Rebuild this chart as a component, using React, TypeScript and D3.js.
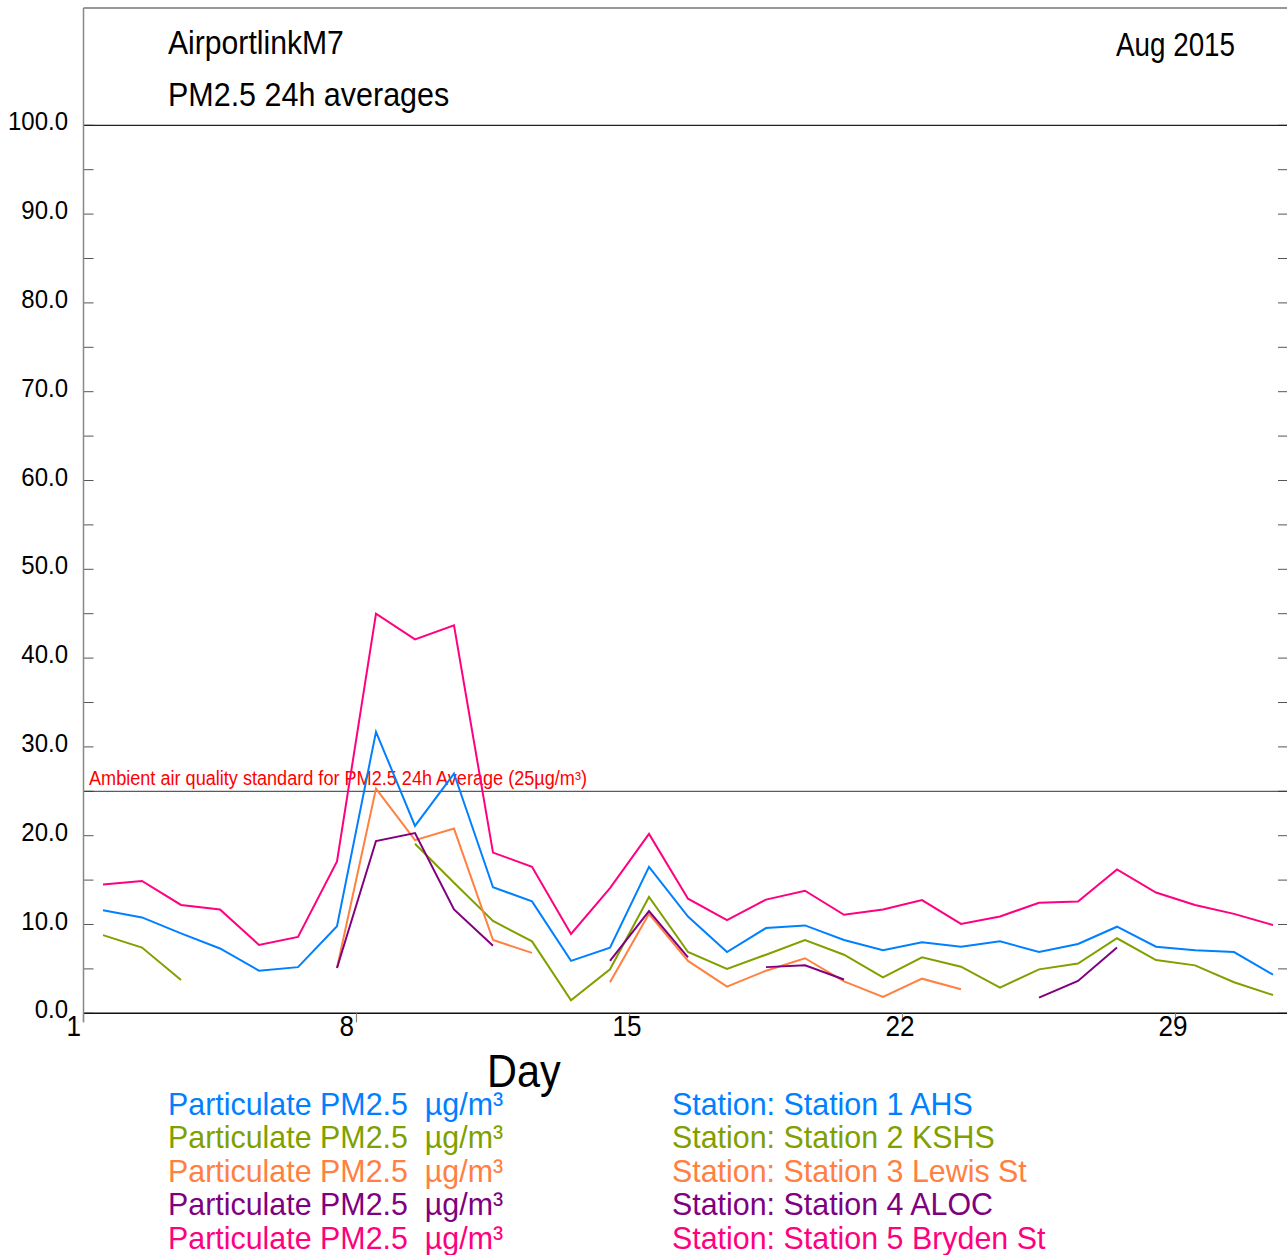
import React from "react";
import * as d3 from "d3";

const days: number[] = d3.range(1, 32);
const station1: (number | null)[] = [11.6, 10.8, 9.0, 7.3, 4.8, 5.2, 9.8, 31.7, 21.1, 27.0, 14.2, 12.6, 5.9, 7.4, 16.5, 10.9, 6.9, 9.6, 9.9, 8.25, 7.1, 8.0, 7.5, 8.1, 6.9, 7.8, 9.75, 7.5, 7.1, 6.9, 4.35];
const station2: (number | null)[] = [8.8, 7.4, 3.75, null, null, null, null, null, 19.1, 14.7, 10.4, 8.1, 1.46, 4.95, 13.1, 6.9, 5.0, 6.6, 8.25, 6.6, 4.05, 6.3, 5.25, 2.9, 4.95, 5.6, 8.45, 6.0, 5.4, 3.5, 2.06];
const station3: (number | null)[] = [null, null, null, null, null, null, 5.1, 25.3, 19.5, 20.8, 8.25, 6.8, null, 3.5, 11.2, 5.9, 3.0, 4.8, 6.2, 3.6, 1.85, 3.9, 2.7, null, null, null, null, null, null, null, null];
const station4: (number | null)[] = [null, null, null, null, null, null, 5.1, 19.4, 20.3, 11.7, 7.6, null, null, 5.9, 11.5, 6.3, null, 5.2, 5.4, 3.8, null, null, null, null, 1.76, 3.64, 7.4, null, null, null, null];
const station5: (number | null)[] = [14.5, 14.9, 12.2, 11.7, 7.7, 8.6, 17.1, 45.0, 42.1, 43.7, 18.1, 16.5, 8.93, 14.1, 20.2, 12.9, 10.5, 12.8, 13.8, 11.1, 11.7, 12.75, 10.06, 10.9, 12.45, 12.6, 16.2, 13.6, 12.2, 11.2, 9.94];

const stationNames: string[] = ["Station 1 AHS", "Station 2 KSHS", "Station 3 Lewis St", "Station 4 ALOC", "Station 5 Bryden St"];
const seriesColors: string[] = ["#0080ff", "#80a000", "#ff8040", "#800080", "#ff0080"];
const xTickDays: number[] = [1, 8, 15, 22, 29];
const yTickValues: number[] = d3.range(0, 101, 10);
const yMinorValues: number[] = d3.range(0, 101, 5);
const standardValue = 25;

const FONT = "'Liberation Sans', Arial, sans-serif";

function T(props: { x: number; y: number; size: number; sx?: number; fill?: string; anchor?: string; children: React.ReactNode }) {
  const { x, y, size, sx = 0.9, fill = "#000", anchor = "start", children } = props;
  return (
    <text
      transform={`translate(${x},${y}) scale(${sx},1)`}
      fontSize={size}
      fontFamily={FONT}
      fill={fill}
      textAnchor={anchor as any}
    >
      {children}
    </text>
  );
}

export default function App() {
  const W = 1287;
  const H = 1255;
  const x = d3.scaleLinear().domain([1, 32]).range([83.5, 1292.5]);
  const y = d3.scaleLinear().domain([0, 100]).range([1013.3, 125.3]);
  const allSeries = [station1, station2, station3, station4, station5];

  const line = d3
    .line<number | null>()
    .defined((d) => d !== null)
    .x((_, i) => x(days[i] + 0.5))
    .y((d) => y(d as number));

  const leftX = 83.5;

  return (
    <svg
      width={W}
      height={H}
      style={{ position: "absolute", left: 0, top: 0, display: "block", background: "#fff" }}
    >
      <rect x={0} y={0} width={W} height={H} fill="#fff" />
      {/* title box */}
      <line x1={leftX} x2={W} y1={8} y2={8} stroke="#333" strokeWidth={1.2} />
      <T x={168} y={54} size={33.5} sx={0.9}>AirportlinkM7</T>
      <T x={168} y={106} size={33.5} sx={0.91}>PM2.5 24h averages</T>
      <T x={1235} y={56} size={33.5} sx={0.83} anchor="end">Aug 2015</T>

      {/* y ticks */}
      {yMinorValues.map((v) => (
        <g key={"t" + v}>
          <line x1={leftX} x2={leftX + 10} y1={y(v)} y2={y(v)} stroke="#555" strokeWidth={1} />
          <line x1={1278} x2={W} y1={y(v)} y2={y(v)} stroke="#555" strokeWidth={1} />
        </g>
      ))}
      {yTickValues.map((v) => (
        <T key={"yl" + v} x={68} y={y(v) + 5} size={25} sx={0.96} anchor="end">
          {v.toFixed(1)}
        </T>
      ))}
      {/* top line at 100 */}
      <line x1={leftX} x2={W} y1={y(100)} y2={y(100)} stroke="#222" strokeWidth={1.2} />

      {/* standard line */}
      <line x1={leftX} x2={W} y1={y(standardValue)} y2={y(standardValue)} stroke="#333" strokeWidth={1} />
      <text
        x={89}
        y={y(standardValue) - 6}
        fontSize={19.5}
        fontFamily={FONT}
        fill="#ff0000"
        textLength={498}
        lengthAdjust="spacingAndGlyphs"
      >
        Ambient air quality standard for PM2.5 24h Average (25µg/m³)
      </text>

      {/* data */}
      {allSeries.map((s, i) => (
        <path key={"s" + i} d={line(s) || ""} fill="none" stroke={seriesColors[i]} strokeWidth={2} strokeLinejoin="miter" />
      ))}

      {/* x axis */}
      <line x1={leftX} x2={W} y1={y(0)} y2={y(0)} stroke="#111" strokeWidth={1.5} />
      {xTickDays.map((d) => (
        <g key={"x" + d}>
          <line x1={x(d)} x2={x(d)} y1={y(0)} y2={y(0) + 9} stroke="#888" strokeWidth={1.2} />
          <T x={x(d) - 17} y={1036} size={29}>{d}</T>
        </g>
      ))}
      {/* left border */}
      <line x1={leftX} x2={leftX} y1={8} y2={y(0) + 9} stroke="#888" strokeWidth={1.5} />

      <T x={487} y={1087} size={46} sx={0.9}>Day</T>

      {/* legend */}
      {stationNames.map((n, i) => (
        <g key={"lg" + i}>
          <T x={168} y={1115 + i * 33.4} size={32} sx={0.95} fill={seriesColors[i]}>
            {"Particulate PM2.5\u00a0\u00a0µg/m³"}
          </T>
          <T x={672} y={1115 + i * 33.4} size={32} sx={0.95} fill={seriesColors[i]}>
            {"Station: " + n}
          </T>
        </g>
      ))}
    </svg>
  );
}
